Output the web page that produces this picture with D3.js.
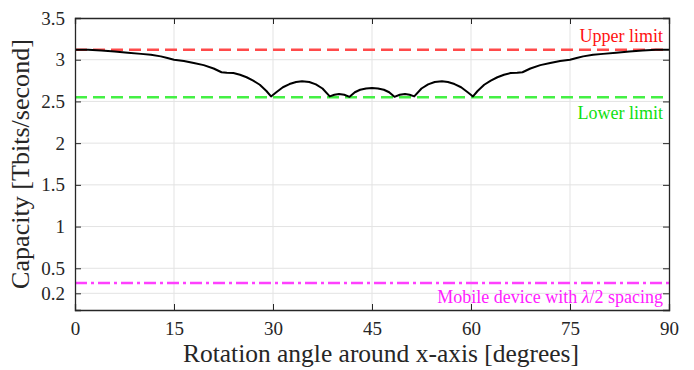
<!DOCTYPE html>
<html>
<head>
<meta charset="utf-8">
<script src="https://cdn.jsdelivr.net/npm/d3@7"></script>
<style>
html,body{margin:0;padding:0;background:#fff;}
svg{display:block;}
svg text, svg tspan{font-family:"Liberation Serif","Times New Roman",serif !important;}
</style>
</head>
<body>
<svg id="chart" width="694" height="370"></svg>
<script>
// ---- data ----
const angles = [0,2,4,6,8,10,11.5,13,14,15,16.5,18,19.5,21,22.2,23,24,25,26,27,28,29,29.7,
  30.5,31.5,32.5,33.5,34.4,35.5,36.5,37.5,38.6,39.3,40.0,40.8,41.6,42.4,43.2,44.1,45,
  45.9,46.8,47.6,48.4,49.2,50.0,50.7,51.4,52.5,53.5,54.5,55.6,56.5,57.5,58.5,59.5,
  60.3,61,62,63,64,65,66,67,67.8,69,70.5,72,73.5,75,76,77,78.5,80,82,84,86,88,90];
const capacity = [3.120,3.118,3.110,3.098,3.084,3.070,3.060,3.040,3.020,3.000,2.985,2.960,2.935,2.895,2.850,2.843,2.840,2.820,2.790,2.750,2.700,2.625,2.560,
  2.610,2.670,2.708,2.733,2.742,2.733,2.705,2.655,2.560,2.580,2.590,2.580,2.555,2.610,2.640,2.655,2.660,
  2.655,2.640,2.610,2.555,2.580,2.590,2.580,2.560,2.655,2.705,2.733,2.742,2.733,2.708,2.670,2.610,
  2.560,2.625,2.700,2.750,2.790,2.820,2.840,2.843,2.850,2.895,2.935,2.960,2.985,3.000,3.020,3.040,3.060,3.070,3.084,3.098,3.110,3.118,3.120];
const upperLimit = 3.12;
const lowerLimit = 2.55;
const mobileLimit = 0.325;
const xTicks = [0,15,30,45,60,75,90];
const yTicks = [0.2,0.5,1,1.5,2,2.5,3,3.5];
const yTickLabels = ["0.2","0.5","1","1.5","2","2.5","3","3.5"];
const xLabel = "Rotation angle around x-axis [degrees]";
const yLabel = "Capacity [Tbits/second]";

// ---- layout ----
const W = 694, H = 370;
const m = {left:75, right:25, top:18, bottom:60};
const iw = W - m.left - m.right, ih = H - m.top - m.bottom;
const svg = d3.select("#chart");
const g = svg.append("g").attr("transform", `translate(${m.left},${m.top})`);
function serif(sel, size){
  sel.attr("style", `font-family:'Liberation Serif','Times New Roman',serif !important;font-size:${size}px`);
  return sel;
}

const x = d3.scaleLinear().domain([0,90]).range([0, iw]);
const y = d3.scaleLinear().domain([0,3.5]).range([ih, 0]);

// grid
g.append("g").selectAll("line").data(xTicks.slice(1,-1)).join("line")
  .attr("x1", d=>x(d)).attr("x2", d=>x(d)).attr("y1",0).attr("y2",ih)
  .attr("stroke","#e3e3e3").attr("stroke-width",1);
g.append("g").selectAll("line").data(yTicks.slice(0,-1)).join("line")
  .attr("y1", d=>y(d)).attr("y2", d=>y(d)).attr("x1",0).attr("x2",iw)
  .attr("stroke","#e3e3e3").attr("stroke-width",1);

// reference lines
function hline(v, color, dash){
  g.append("line").attr("x1",0).attr("x2",iw).attr("y1",y(v)).attr("y2",y(v))
   .attr("stroke",color).attr("stroke-width",2.5).attr("stroke-dasharray",dash);
}
hline(upperLimit, "#ff4a4a", "12,6");
hline(lowerLimit, "#44f044", "12,6");
hline(mobileLimit, "#ff40ff", "12,4,3,4");

// curve
const line = d3.line().x((d,i)=>x(angles[i])).y(d=>y(d)).curve(d3.curveLinear);
g.append("path").datum(capacity).attr("d", line)
  .attr("fill","none").attr("stroke","#000").attr("stroke-width",2).attr("stroke-linejoin","round");

// axes
const axisColor = "#262626";
const xAxis = d3.axisBottom(x).tickValues(xTicks).tickSize(-6).tickPadding(12).tickFormat(d3.format("d"));
const gx = g.append("g").attr("transform",`translate(0,${ih})`).call(xAxis);
const xTop = d3.axisTop(x).tickValues(xTicks).tickSize(-6).tickFormat("");
const gxt = g.append("g").call(xTop);
const yAxis = d3.axisLeft(y).tickValues(yTicks).tickSize(-6).tickPadding(10).tickFormat((d,i)=>yTickLabels[i]);
const gy = g.append("g").call(yAxis);
const yRight = d3.axisRight(y).tickValues(yTicks).tickSize(-6).tickFormat("");
const gyr = g.append("g").attr("transform",`translate(${iw},0)`).call(yRight);
[gx,gxt,gy,gyr].forEach(a=>{
  a.attr("font-family", "Liberation Serif").attr("font-size", 19);
  a.select(".domain").attr("stroke",axisColor).attr("stroke-width",1.3);
  a.selectAll(".tick line").attr("stroke",axisColor).attr("stroke-width",1);
  serif(a.selectAll("text").attr("fill","#262626"), 19);
});

// annotations
serif(g.append("text"), 18).attr("x", iw-6).attr("y", y(upperLimit)-8).attr("text-anchor","end")
  .attr("fill","#ff1010").text("Upper limit");
serif(g.append("text"), 18).attr("x", iw-6).attr("y", y(lowerLimit)+22).attr("text-anchor","end")
  .attr("fill","#10e010").text("Lower limit");
const mt = serif(g.append("text"), 18).attr("x", iw-6).attr("y", y(mobileLimit)+20).attr("text-anchor","end")
  .attr("fill","#ff20ff");
mt.append("tspan").text("Mobile device with ");
mt.append("tspan").attr("font-style","italic").text("λ");
mt.append("tspan").text("/2 spacing");

// axis labels (font size fitted to reference text widths)
function fit(sel, size, target){
  serif(sel, size);
  const len = sel.node().getComputedTextLength();
  serif(sel, (size*target/len).toFixed(2));
}
const xl = svg.append("text").attr("x", m.left + iw/2 + 9).attr("y", H-8).attr("text-anchor","middle")
  .attr("fill","#262626").text(xLabel);
fit(xl, 22, 396);
const yl = svg.append("text").attr("transform",`translate(29,${m.top+ih/2}) rotate(-90)`).attr("text-anchor","middle")
  .attr("fill","#262626").text(yLabel);
fit(yl, 22, 250);
</script>
</body>
</html>
